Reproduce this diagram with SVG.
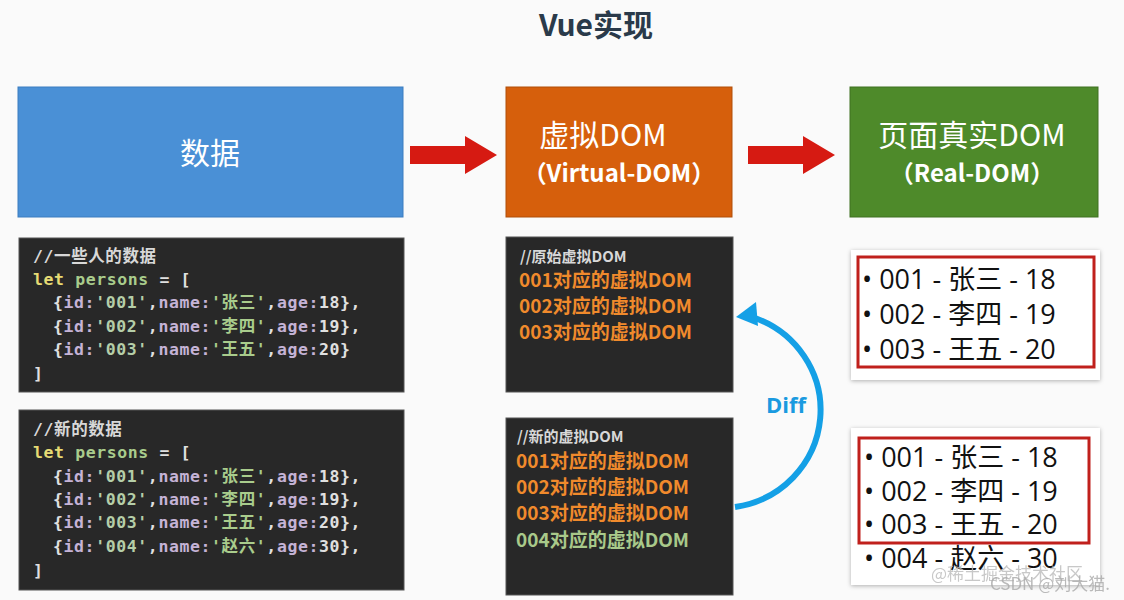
<svg xmlns="http://www.w3.org/2000/svg" width="1124" height="600" viewBox="0 0 1124 600">
<style>
.code{fill:#282828;stroke:#555;stroke-width:1}
.mono{font-family:"DejaVu Sans Mono","Noto Sans CJK SC",monospace;font-size:16.5px;font-weight:bold;letter-spacing:0.6px}
.cm{fill:#d8d8d8}.kw{fill:#e6db74}.id{fill:#b5cea8}.p{fill:#c5b3d6}.w{fill:#e0e0e0}.g{fill:#a9cc8c}
.vd{font-family:"Noto Sans CJK SC","Open Sans",sans-serif;font-size:19px;font-weight:bold;fill:#f08a2c}
.vc{font-family:"Noto Sans CJK SC",sans-serif;font-size:15px;font-weight:bold;fill:#d8d8d8}
.li{font-family:"Open Sans","Noto Sans CJK SC",sans-serif;font-size:27px;fill:#111}
.hd{font-family:"Noto Sans CJK SC","Open Sans",sans-serif;fill:#fff;text-anchor:middle}
</style>
<defs>
<filter id="sh"><feDropShadow dx="0" dy="1" stdDeviation="2" flood-opacity="0.3"/></filter>
</defs>
<rect width="1124" height="600" fill="#fafafa"/>
<text x="596" y="36" text-anchor="middle" font-family="Noto Sans CJK SC,sans-serif" font-size="30" font-weight="bold" fill="#2a3a4a">Vue实现</text>

<g id="data"><rect x="18" y="87" width="385" height="130" fill="#4a90d6" stroke="#3a7cc0"/><text class="hd" x="210" y="164" font-size="30">数据</text></g>
<g id="vdom"><rect x="506" y="87" width="226" height="130" fill="#d65f0c" stroke="#b04e08"/><text class="hd" x="603" y="146" font-size="30">虚拟DOM</text><text class="hd" x="619" y="182" font-size="24" font-weight="bold">（Virtual-DOM）</text></g>
<g id="rdom"><rect x="850" y="87" width="248" height="130" fill="#4e8a2a" stroke="#3e7020"/><text class="hd" x="972" y="146" font-size="30">页面真实DOM</text><text class="hd" x="972" y="182" font-size="24" font-weight="bold">（Real-DOM）</text></g>

<g id="code1"><rect class="code" x="19" y="238" width="385" height="154"/>
<text class="mono" x="33" y="262"><tspan class="cm">//一些人的数据</tspan></text>
<text class="mono" x="33" y="285" xml:space="preserve"><tspan class="kw">let</tspan> <tspan class="g">persons</tspan> <tspan class="w">= [</tspan></text>
<text class="mono" x="53" y="308"><tspan class="w">{</tspan><tspan class="p">id:</tspan><tspan class="id">'001'</tspan><tspan class="w">,</tspan><tspan class="p">name:</tspan><tspan class="g">'张三'</tspan><tspan class="w">,</tspan><tspan class="p">age:</tspan><tspan class="w">18},</tspan></text>
<text class="mono" x="53" y="332"><tspan class="w">{</tspan><tspan class="p">id:</tspan><tspan class="id">'002'</tspan><tspan class="w">,</tspan><tspan class="p">name:</tspan><tspan class="g">'李四'</tspan><tspan class="w">,</tspan><tspan class="p">age:</tspan><tspan class="w">19},</tspan></text>
<text class="mono" x="53" y="355"><tspan class="w">{</tspan><tspan class="p">id:</tspan><tspan class="id">'003'</tspan><tspan class="w">,</tspan><tspan class="p">name:</tspan><tspan class="g">'王五'</tspan><tspan class="w">,</tspan><tspan class="p">age:</tspan><tspan class="w">20}</tspan></text>
<text class="mono w" x="33" y="379">]</text></g>

<g id="code2"><rect class="code" x="19" y="410" width="385" height="180"/>
<text class="mono" x="33" y="435"><tspan class="cm">//新的数据</tspan></text>
<text class="mono" x="33" y="458" xml:space="preserve"><tspan class="kw">let</tspan> <tspan class="g">persons</tspan> <tspan class="w">= [</tspan></text>
<text class="mono" x="53" y="482"><tspan class="w">{</tspan><tspan class="p">id:</tspan><tspan class="id">'001'</tspan><tspan class="w">,</tspan><tspan class="p">name:</tspan><tspan class="g">'张三'</tspan><tspan class="w">,</tspan><tspan class="p">age:</tspan><tspan class="w">18},</tspan></text>
<text class="mono" x="53" y="505"><tspan class="w">{</tspan><tspan class="p">id:</tspan><tspan class="id">'002'</tspan><tspan class="w">,</tspan><tspan class="p">name:</tspan><tspan class="g">'李四'</tspan><tspan class="w">,</tspan><tspan class="p">age:</tspan><tspan class="w">19},</tspan></text>
<text class="mono" x="53" y="528"><tspan class="w">{</tspan><tspan class="p">id:</tspan><tspan class="id">'003'</tspan><tspan class="w">,</tspan><tspan class="p">name:</tspan><tspan class="g">'王五'</tspan><tspan class="w">,</tspan><tspan class="p">age:</tspan><tspan class="w">20},</tspan></text>
<text class="mono" x="53" y="552"><tspan class="w">{</tspan><tspan class="p">id:</tspan><tspan class="id">'004'</tspan><tspan class="w">,</tspan><tspan class="p">name:</tspan><tspan class="g">'赵六'</tspan><tspan class="w">,</tspan><tspan class="p">age:</tspan><tspan class="w">30},</tspan></text>
<text class="mono w" x="33" y="576">]</text></g>

<g id="vdom1"><rect class="code" x="506" y="237" width="227" height="155"/>
<text class="vc" x="520" y="262">//原始虚拟DOM</text>
<text class="vd" x="519" y="287">001对应的虚拟DOM</text>
<text class="vd" x="519" y="313">002对应的虚拟DOM</text>
<text class="vd" x="519" y="339">003对应的虚拟DOM</text></g>

<g id="vdom2"><rect class="code" x="506" y="418" width="227" height="177"/>
<text class="vc" x="517" y="442">//新的虚拟DOM</text>
<text class="vd" x="516" y="468">001对应的虚拟DOM</text>
<text class="vd" x="516" y="494">002对应的虚拟DOM</text>
<text class="vd" x="516" y="520">003对应的虚拟DOM</text>
<text class="vd" x="516" y="547" style="fill:#a9c98a">004对应的虚拟DOM</text></g>

<g id="real1"><rect x="851" y="250" width="249" height="130" fill="#fff" filter="url(#sh)"/>
<rect x="858" y="257" width="236" height="110" fill="none" stroke="#c0201c" stroke-width="3"/>
<text class="li" x="862" y="289">• 001 - 张三 - 18</text>
<text class="li" x="862" y="324">• 002 - 李四 - 19</text>
<text class="li" x="862" y="359">• 003 - 王五 - 20</text></g>

<g id="real2"><rect x="851" y="428" width="249" height="157" fill="#fff" filter="url(#sh)"/>
<rect x="859" y="438" width="230" height="105" fill="none" stroke="#c0201c" stroke-width="3"/>
<text class="li" x="864" y="467">• 001 - 张三 - 18</text>
<text class="li" x="864" y="501">• 002 - 李四 - 19</text>
<text class="li" x="864" y="534">• 003 - 王五 - 20</text>
<text class="li" x="864" y="568">• 004 - 赵六 - 30</text></g>

<g id="connectors">
<path d="M410,146 h55 v-10 l32,19 l-32,19 v-10 h-55 z" fill="#d61a12"/>
<path d="M748,146 h55 v-10 l32,19 l-32,19 v-10 h-55 z" fill="#d61a12"/>
<path d="M735,507 A100,98 0 0 0 752,317" fill="none" stroke="#14a0e6" stroke-width="6"/>
<path d="M736,317 l20,-15 l2,24 z" fill="#14a0e6"/>
<text x="786" y="413" text-anchor="middle" font-family="Open Sans,sans-serif" font-size="22" font-weight="bold" fill="#1a9ae0">Diff</text>
</g>
<text x="1083" y="580" text-anchor="end" font-family="Noto Sans CJK SC,sans-serif" font-size="17" fill="#bbb" opacity="0.8">@稀土掘金技术社区</text>
<text x="1110" y="590" text-anchor="end" font-family="Noto Sans CJK SC,sans-serif" font-size="17" fill="#aaa" opacity="0.8">CSDN @刘大猫.</text>
</svg>
